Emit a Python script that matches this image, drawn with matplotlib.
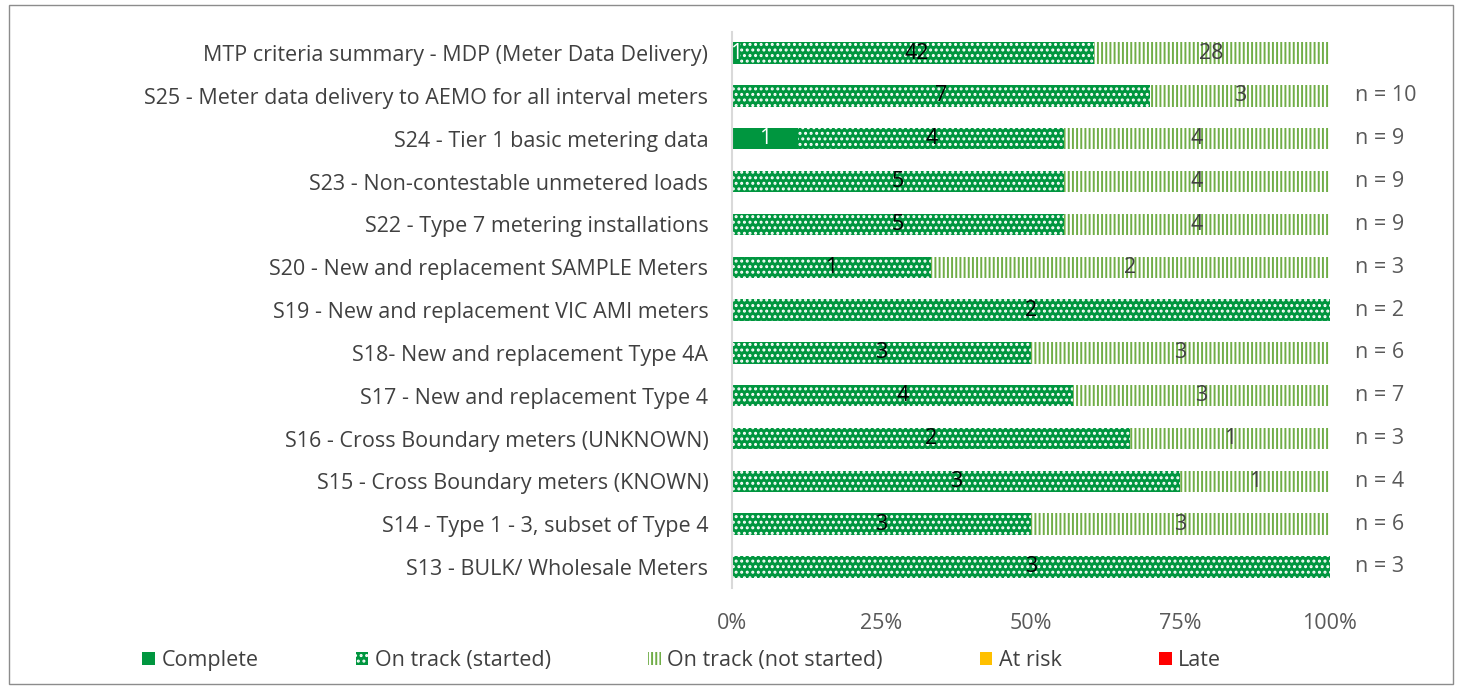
import matplotlib
matplotlib.use("Agg")
import matplotlib.pyplot as plt
from matplotlib.patches import Patch, Rectangle
import numpy as np

plt.rcParams["font.family"] = ["Open Sans", "DejaVu Sans"]
plt.rcParams["hatch.linewidth"] = 1.4

categories = [
    "MTP criteria summary - MDP (Meter Data Delivery)",
    "S25 - Meter data delivery to AEMO for all interval meters",
    "S24 - Tier 1 basic metering data",
    "S23 - Non-contestable unmetered loads",
    "S22 - Type 7 metering installations",
    "S20 - New and replacement SAMPLE Meters",
    "S19 - New and replacement VIC AMI meters",
    "S18- New and replacement Type 4A",
    "S17 - New and replacement Type 4",
    "S16 - Cross Boundary meters (UNKNOWN)",
    "S15 - Cross Boundary meters (KNOWN)",
    "S14 - Type 1 - 3, subset of Type 4",
    "S13 - BULK/ Wholesale Meters",
]
complete = [1, 0, 1, 0, 0, 0, 0, 0, 0, 0, 0, 0, 0]
started = [42, 7, 4, 5, 5, 1, 2, 3, 4, 2, 3, 3, 3]
not_started = [28, 3, 4, 4, 4, 2, 0, 3, 3, 1, 1, 3, 0]
at_risk = [0] * 13
late = [0] * 13
n_labels = ["", "n = 10", "n = 9", "n = 9", "n = 9", "n = 3", "n = 2",
            "n = 6", "n = 7", "n = 3", "n = 4", "n = 6", "n = 3"]
xticks = [0, 0.25, 0.5, 0.75, 1.0]
xticklabels = ["0%", "25%", "50%", "75%", "100%"]

GREEN = "#00963F"
LIGHT = "#70AD47"
TXT = "#404040"
FS = 15.5

fig = plt.figure(figsize=(14.63, 6.89), dpi=100)
ax = fig.add_axes([0.5003, 0.146, 0.4085, 0.808])
fig.add_artist(Rectangle((0.006, 0.007), 0.987, 0.986, transform=fig.transFigure,
                         fill=False, edgecolor="#8c8c8c", lw=1.0))

tot = np.array(complete) + np.array(started) + np.array(not_started) \
    + np.array(at_risk) + np.array(late)
y = np.arange(len(categories))
series = [
    (complete, dict(color=GREEN, lw=0), "white"),
    (started, dict(facecolor=GREEN, edgecolor="white", hatch="...", lw=0), "black"),
    (not_started, dict(facecolor="white", edgecolor=LIGHT, hatch="||||", lw=0), TXT),
    (at_risk, dict(color="#FFC000", lw=0), TXT),
    (late, dict(color="#FF0000", lw=0), TXT),
]
left = np.zeros(len(categories))
for vals, st, tc in series:
    frac = np.array(vals) / tot
    ax.barh(y, frac, left=left, height=0.5, **st)
    for yi, v, l, f in zip(y, vals, left, frac):
        if v > 0:
            ax.text(l + f / 2, yi, str(v), ha="center", va="center",
                    fontsize=FS, color=tc)
    left = left + frac

for yi, lab in zip(y, n_labels):
    ax.text(1.043, yi, lab, transform=ax.get_yaxis_transform(), ha="left",
            va="center", fontsize=FS, color="#595959")

ax.set_ylim(len(categories) - 0.5, -0.5)
ax.set_xlim(0, 1)
ax.set_yticks(y)
ax.set_yticklabels(categories, fontsize=FS, color=TXT)
ax.set_xticks(xticks)
ax.set_xticklabels(xticklabels, fontsize=FS, color="#595959")
ax.tick_params(axis="both", length=0)
ax.tick_params(axis="x", pad=18)
ax.tick_params(axis="y", pad=17)
for s in ["top", "right", "bottom"]:
    ax.spines[s].set_visible(False)
ax.spines["left"].set_color("#d9d9d9")
ax.spines["left"].set_linewidth(1.5)

handles = [
    Patch(facecolor=GREEN, lw=0, label="Complete"),
    Patch(facecolor=GREEN, edgecolor="white", hatch="...", lw=0, label="On track (started)"),
    Patch(facecolor="white", edgecolor=LIGHT, hatch="||||", lw=0, label="On track (not started)"),
    Patch(facecolor="#FFC000", lw=0, label="At risk"),
    Patch(facecolor="#FF0000", lw=0, label="Late"),
]
leg = fig.legend(handles=handles, loc="center left", bbox_to_anchor=(0.084, 0.041),
                 ncol=5, frameon=False, fontsize=FS, handlelength=0.6,
                 handleheight=0.6, handletextpad=0.3, columnspacing=4.5,
                 labelcolor=TXT)

fig.savefig("out.png", dpi=100)
